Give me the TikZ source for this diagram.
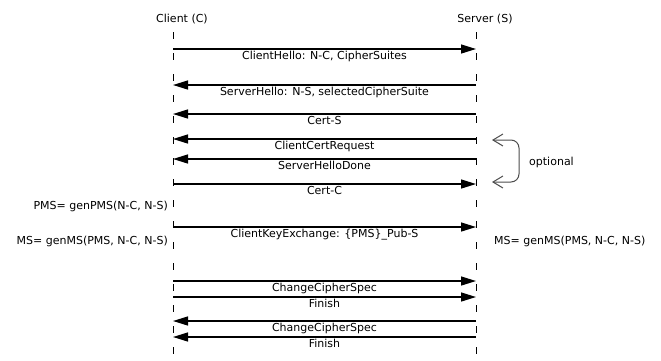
\documentclass[tikz,border=0pt]{standalone}
\usepackage{fontspec}
\setmainfont{DejaVu Sans}
\usetikzlibrary{arrows.meta}
\begin{document}
\begin{tikzpicture}[x=1pt,y=-1pt,
  lifeline/.style={line width=0.8pt,dash pattern=on 7pt off 14pt},
  msg/.style={line width=1.4pt,-{Triangle[length=15pt,width=9pt]}},
  msglabel/.style={anchor=north,inner sep=0pt,yshift=-1.5pt,font=\fontsize{11}{13}\selectfont},
  txt/.style={inner sep=0pt,font=\fontsize{11}{13}\selectfont},
  brace/.style={line width=1pt,black!70,{Straight Barb[length=10pt,width=12pt]}-{Straight Barb[length=10pt,width=12pt]}}]
\useasboundingbox (0,0) rectangle (661,360);
% headers
\node[txt] (client) at (182,19) {Client (C)};
\node[txt] (server) at (485,19) {Server (S)};
% lifelines
\coordinate (ct) at (173,32); \coordinate (cb) at (173,362);
\coordinate (st) at (476,32); \coordinate (sb) at (476,362);
\draw[lifeline] (ct) -- (cb);
\draw[lifeline] (st) -- (sb);
% message endpoints
\foreach \n/\y in {1/49,2/85,3/114,4/139,5/159,6/184,7/227,8/281,9/297,10/321,11/337}{
  \coordinate (c\n) at (173,\y);
  \coordinate (s\n) at (476,\y);
}
\draw[msg] (c1) -- node[msglabel]{ClientHello: N-C, CipherSuites} (s1);
\draw[msg] (s2) -- node[msglabel]{ServerHello: N-S, selectedCipherSuite} (c2);
\draw[msg] (s3) -- node[msglabel]{Cert-S} (c3);
\draw[msg] (s4) -- node[msglabel]{ClientCertRequest} (c4);
\draw[msg] (s5) -- node[msglabel]{ServerHelloDone} (c5);
\draw[msg] (c6) -- node[msglabel]{Cert-C} (s6);
\draw[msg] (c7) -- node[msglabel]{ClientKeyExchange: \{PMS\}\_Pub-S} (s7);
\draw[msg] (c8) -- node[msglabel]{ChangeCipherSpec} (s8);
\draw[msg] (c9) -- node[msglabel]{Finish} (s9);
\draw[msg] (s10) -- node[msglabel]{ChangeCipherSpec} (c10);
\draw[msg] (s11) -- node[msglabel]{Finish} (c11);
% side notes
\node[txt,anchor=east] (pms) at (168,206) {PMS= genPMS(N-C, N-S)};
\node[txt,anchor=east] (msc) at (168,241) {MS= genMS(PMS, N-C, N-S)};
\node[txt,anchor=west] (mss) at (494,241) {MS= genMS(PMS, N-C, N-S)};
% optional brace
\coordinate (o1) at (492,140);
\coordinate (o2) at (492,182);
\draw[brace] (o1) -- (511,140) to[out=0,in=90] (519,148) -- (519,174) to[out=-90,in=0] (511,182) -- (o2);
\node[txt,anchor=west] (opt) at (529,162) {optional};
\end{tikzpicture}
\end{document}
